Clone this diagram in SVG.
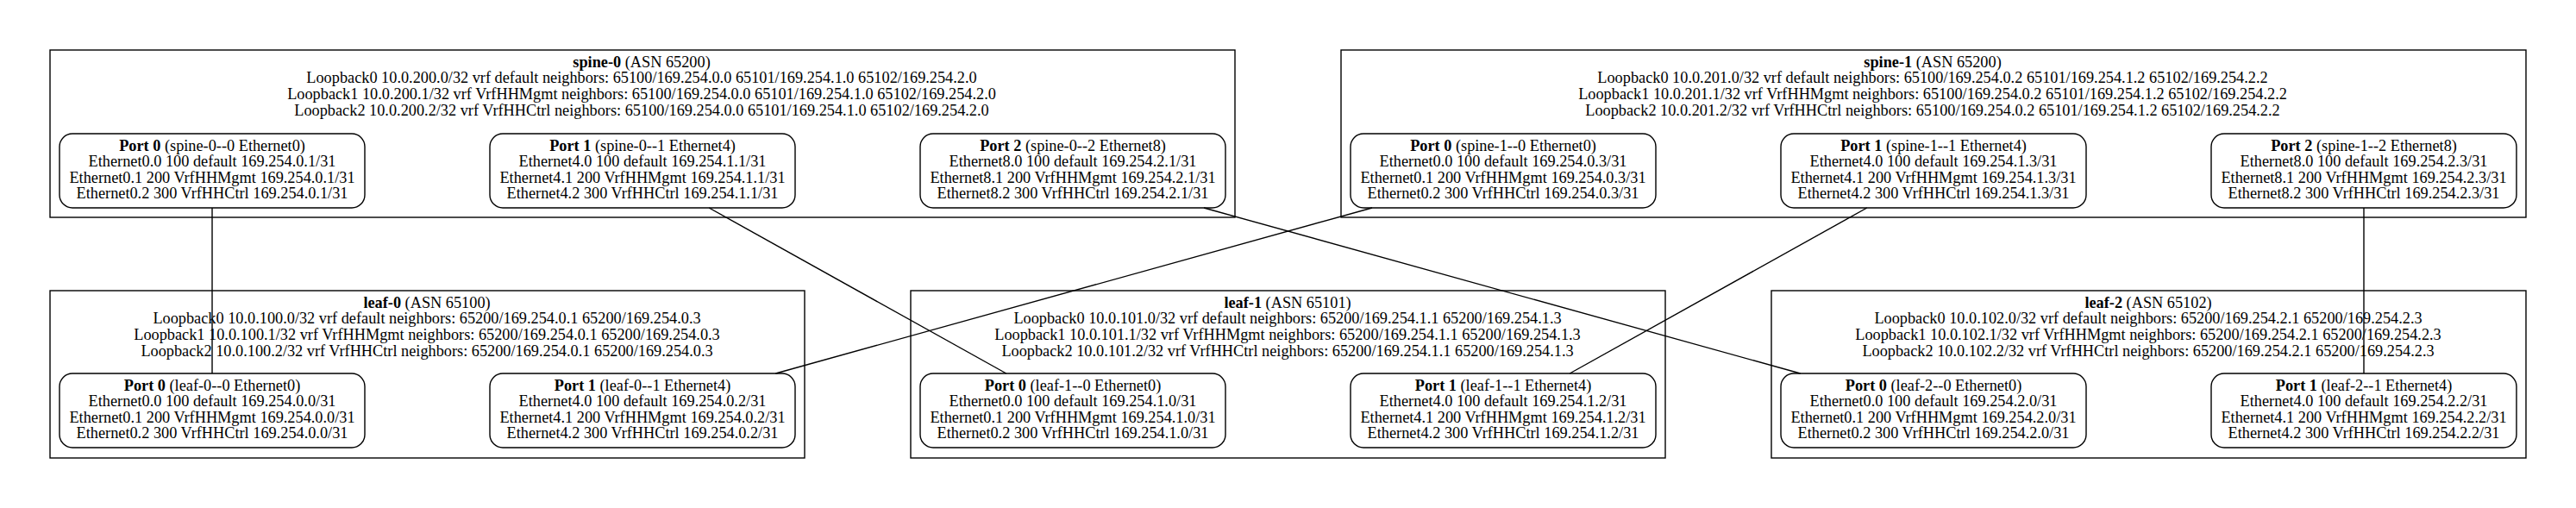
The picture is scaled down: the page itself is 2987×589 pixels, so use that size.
<svg xmlns="http://www.w3.org/2000/svg" width="2987" height="589" viewBox="0 0 2987 589">
<style>
.cl{fill:none;stroke:#000;stroke-width:1.4}
.pt{fill:none;stroke:#000;stroke-width:1.4}
.e{fill:none;stroke:#000;stroke-width:1.4}
text{font-family:"Liberation Serif","Times New Roman",serif;font-size:18.3px;text-anchor:middle;fill:#000}
.b{font-weight:bold}
</style>
<rect x="0" y="0" width="2987" height="589" fill="#fff"/>
<g id="spine-0">
<rect class="cl" x="58" y="58" width="1374" height="194"/>
<text x="744" y="77.5"><tspan class="b">spine-0</tspan> (ASN 65200)</text>
<text x="744" y="96.2">Loopback0 10.0.200.0/32 vrf default neighbors: 65100/169.254.0.0 65101/169.254.1.0 65102/169.254.2.0</text>
<text x="744" y="114.9">Loopback1 10.0.200.1/32 vrf VrfHHMgmt neighbors: 65100/169.254.0.0 65101/169.254.1.0 65102/169.254.2.0</text>
<text x="744" y="133.6">Loopback2 10.0.200.2/32 vrf VrfHHCtrl neighbors: 65100/169.254.0.0 65101/169.254.1.0 65102/169.254.2.0</text>
</g>
<g id="spine-1">
<rect class="cl" x="1555" y="58" width="1374" height="194"/>
<text x="2241" y="77.5"><tspan class="b">spine-1</tspan> (ASN 65200)</text>
<text x="2241" y="96.2">Loopback0 10.0.201.0/32 vrf default neighbors: 65100/169.254.0.2 65101/169.254.1.2 65102/169.254.2.2</text>
<text x="2241" y="114.9">Loopback1 10.0.201.1/32 vrf VrfHHMgmt neighbors: 65100/169.254.0.2 65101/169.254.1.2 65102/169.254.2.2</text>
<text x="2241" y="133.6">Loopback2 10.0.201.2/32 vrf VrfHHCtrl neighbors: 65100/169.254.0.2 65101/169.254.1.2 65102/169.254.2.2</text>
</g>
<g id="leaf-0">
<rect class="cl" x="58" y="337" width="875" height="194"/>
<text x="495" y="356.5"><tspan class="b">leaf-0</tspan> (ASN 65100)</text>
<text x="495" y="375.2">Loopback0 10.0.100.0/32 vrf default neighbors: 65200/169.254.0.1 65200/169.254.0.3</text>
<text x="495" y="393.9">Loopback1 10.0.100.1/32 vrf VrfHHMgmt neighbors: 65200/169.254.0.1 65200/169.254.0.3</text>
<text x="495" y="412.6">Loopback2 10.0.100.2/32 vrf VrfHHCtrl neighbors: 65200/169.254.0.1 65200/169.254.0.3</text>
</g>
<g id="leaf-1">
<rect class="cl" x="1056" y="337" width="875" height="194"/>
<text x="1493" y="356.5"><tspan class="b">leaf-1</tspan> (ASN 65101)</text>
<text x="1493" y="375.2">Loopback0 10.0.101.0/32 vrf default neighbors: 65200/169.254.1.1 65200/169.254.1.3</text>
<text x="1493" y="393.9">Loopback1 10.0.101.1/32 vrf VrfHHMgmt neighbors: 65200/169.254.1.1 65200/169.254.1.3</text>
<text x="1493" y="412.6">Loopback2 10.0.101.2/32 vrf VrfHHCtrl neighbors: 65200/169.254.1.1 65200/169.254.1.3</text>
</g>
<g id="leaf-2">
<rect class="cl" x="2054" y="337" width="875" height="194"/>
<text x="2491" y="356.5"><tspan class="b">leaf-2</tspan> (ASN 65102)</text>
<text x="2491" y="375.2">Loopback0 10.0.102.0/32 vrf default neighbors: 65200/169.254.2.1 65200/169.254.2.3</text>
<text x="2491" y="393.9">Loopback1 10.0.102.1/32 vrf VrfHHMgmt neighbors: 65200/169.254.2.1 65200/169.254.2.3</text>
<text x="2491" y="412.6">Loopback2 10.0.102.2/32 vrf VrfHHCtrl neighbors: 65200/169.254.2.1 65200/169.254.2.3</text>
</g>
<g id="connectors">
<line class="e" x1="246" y1="241" x2="246" y2="433"/>
<line class="e" x1="822.2" y1="241" x2="1166.8" y2="433"/>
<line class="e" x1="1396" y1="241" x2="2087.6" y2="433"/>
<line class="e" x1="1591" y1="241" x2="899.4" y2="433"/>
<line class="e" x1="2164.8" y1="241" x2="1820.2" y2="433"/>
<line class="e" x1="2741" y1="241" x2="2741" y2="433"/>
</g>
<g id="spine-0-port0">
<rect class="pt" x="69" y="155" width="354" height="86" rx="15"/>
<text x="246" y="174.5"><tspan class="b">Port 0</tspan> (spine-0--0 Ethernet0)</text>
<text x="246" y="193">Ethernet0.0 100 default 169.254.0.1/31</text>
<text x="246" y="211.5">Ethernet0.1 200 VrfHHMgmt 169.254.0.1/31</text>
<text x="246" y="230">Ethernet0.2 300 VrfHHCtrl 169.254.0.1/31</text>
</g>
<g id="spine-0-port1">
<rect class="pt" x="568" y="155" width="354" height="86" rx="15"/>
<text x="745" y="174.5"><tspan class="b">Port 1</tspan> (spine-0--1 Ethernet4)</text>
<text x="745" y="193">Ethernet4.0 100 default 169.254.1.1/31</text>
<text x="745" y="211.5">Ethernet4.1 200 VrfHHMgmt 169.254.1.1/31</text>
<text x="745" y="230">Ethernet4.2 300 VrfHHCtrl 169.254.1.1/31</text>
</g>
<g id="spine-0-port2">
<rect class="pt" x="1067" y="155" width="354" height="86" rx="15"/>
<text x="1244" y="174.5"><tspan class="b">Port 2</tspan> (spine-0--2 Ethernet8)</text>
<text x="1244" y="193">Ethernet8.0 100 default 169.254.2.1/31</text>
<text x="1244" y="211.5">Ethernet8.1 200 VrfHHMgmt 169.254.2.1/31</text>
<text x="1244" y="230">Ethernet8.2 300 VrfHHCtrl 169.254.2.1/31</text>
</g>
<g id="spine-1-port0">
<rect class="pt" x="1566" y="155" width="354" height="86" rx="15"/>
<text x="1743" y="174.5"><tspan class="b">Port 0</tspan> (spine-1--0 Ethernet0)</text>
<text x="1743" y="193">Ethernet0.0 100 default 169.254.0.3/31</text>
<text x="1743" y="211.5">Ethernet0.1 200 VrfHHMgmt 169.254.0.3/31</text>
<text x="1743" y="230">Ethernet0.2 300 VrfHHCtrl 169.254.0.3/31</text>
</g>
<g id="spine-1-port1">
<rect class="pt" x="2065" y="155" width="354" height="86" rx="15"/>
<text x="2242" y="174.5"><tspan class="b">Port 1</tspan> (spine-1--1 Ethernet4)</text>
<text x="2242" y="193">Ethernet4.0 100 default 169.254.1.3/31</text>
<text x="2242" y="211.5">Ethernet4.1 200 VrfHHMgmt 169.254.1.3/31</text>
<text x="2242" y="230">Ethernet4.2 300 VrfHHCtrl 169.254.1.3/31</text>
</g>
<g id="spine-1-port2">
<rect class="pt" x="2564" y="155" width="354" height="86" rx="15"/>
<text x="2741" y="174.5"><tspan class="b">Port 2</tspan> (spine-1--2 Ethernet8)</text>
<text x="2741" y="193">Ethernet8.0 100 default 169.254.2.3/31</text>
<text x="2741" y="211.5">Ethernet8.1 200 VrfHHMgmt 169.254.2.3/31</text>
<text x="2741" y="230">Ethernet8.2 300 VrfHHCtrl 169.254.2.3/31</text>
</g>
<g id="leaf-0-port0">
<rect class="pt" x="69" y="433" width="354" height="86" rx="15"/>
<text x="246" y="452.5"><tspan class="b">Port 0</tspan> (leaf-0--0 Ethernet0)</text>
<text x="246" y="471">Ethernet0.0 100 default 169.254.0.0/31</text>
<text x="246" y="489.5">Ethernet0.1 200 VrfHHMgmt 169.254.0.0/31</text>
<text x="246" y="508">Ethernet0.2 300 VrfHHCtrl 169.254.0.0/31</text>
</g>
<g id="leaf-0-port1">
<rect class="pt" x="568" y="433" width="354" height="86" rx="15"/>
<text x="745" y="452.5"><tspan class="b">Port 1</tspan> (leaf-0--1 Ethernet4)</text>
<text x="745" y="471">Ethernet4.0 100 default 169.254.0.2/31</text>
<text x="745" y="489.5">Ethernet4.1 200 VrfHHMgmt 169.254.0.2/31</text>
<text x="745" y="508">Ethernet4.2 300 VrfHHCtrl 169.254.0.2/31</text>
</g>
<g id="leaf-1-port0">
<rect class="pt" x="1067" y="433" width="354" height="86" rx="15"/>
<text x="1244" y="452.5"><tspan class="b">Port 0</tspan> (leaf-1--0 Ethernet0)</text>
<text x="1244" y="471">Ethernet0.0 100 default 169.254.1.0/31</text>
<text x="1244" y="489.5">Ethernet0.1 200 VrfHHMgmt 169.254.1.0/31</text>
<text x="1244" y="508">Ethernet0.2 300 VrfHHCtrl 169.254.1.0/31</text>
</g>
<g id="leaf-1-port1">
<rect class="pt" x="1566" y="433" width="354" height="86" rx="15"/>
<text x="1743" y="452.5"><tspan class="b">Port 1</tspan> (leaf-1--1 Ethernet4)</text>
<text x="1743" y="471">Ethernet4.0 100 default 169.254.1.2/31</text>
<text x="1743" y="489.5">Ethernet4.1 200 VrfHHMgmt 169.254.1.2/31</text>
<text x="1743" y="508">Ethernet4.2 300 VrfHHCtrl 169.254.1.2/31</text>
</g>
<g id="leaf-2-port0">
<rect class="pt" x="2065" y="433" width="354" height="86" rx="15"/>
<text x="2242" y="452.5"><tspan class="b">Port 0</tspan> (leaf-2--0 Ethernet0)</text>
<text x="2242" y="471">Ethernet0.0 100 default 169.254.2.0/31</text>
<text x="2242" y="489.5">Ethernet0.1 200 VrfHHMgmt 169.254.2.0/31</text>
<text x="2242" y="508">Ethernet0.2 300 VrfHHCtrl 169.254.2.0/31</text>
</g>
<g id="leaf-2-port1">
<rect class="pt" x="2564" y="433" width="354" height="86" rx="15"/>
<text x="2741" y="452.5"><tspan class="b">Port 1</tspan> (leaf-2--1 Ethernet4)</text>
<text x="2741" y="471">Ethernet4.0 100 default 169.254.2.2/31</text>
<text x="2741" y="489.5">Ethernet4.1 200 VrfHHMgmt 169.254.2.2/31</text>
<text x="2741" y="508">Ethernet4.2 300 VrfHHCtrl 169.254.2.2/31</text>
</g>
</svg>
